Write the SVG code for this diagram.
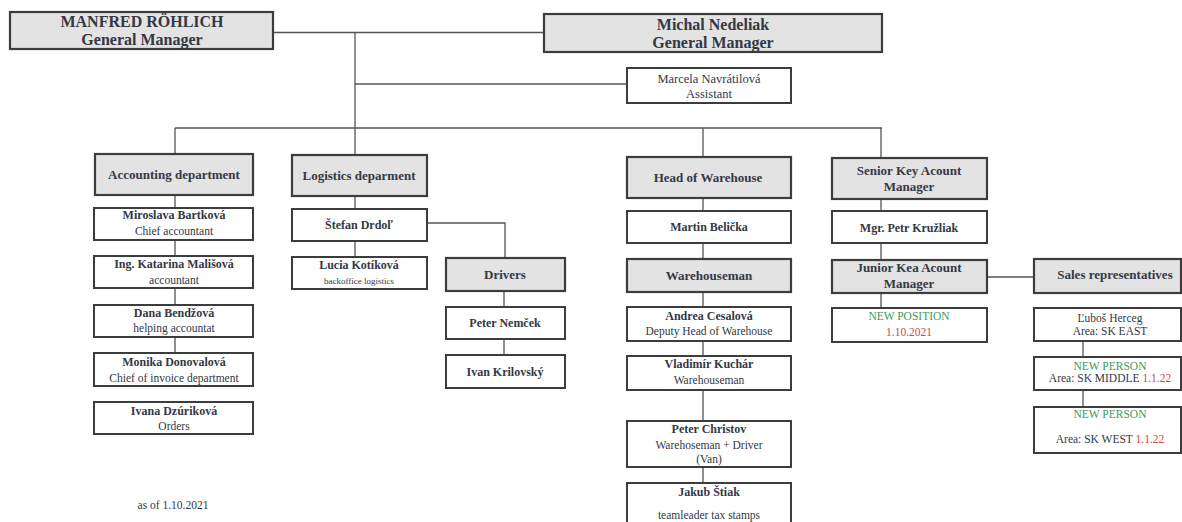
<svg xmlns="http://www.w3.org/2000/svg" width="1182" height="522" viewBox="0 0 1182 522">
<style>
text{font-family:"Liberation Serif","Times New Roman",serif;fill:#333845;text-anchor:middle}
.hd{fill:#e3e3e3;stroke:#3c3c3c;stroke-width:2.2}
.bx{fill:#ffffff;stroke:#3c3c3c;stroke-width:2}
.t{font-size:16px;font-weight:bold}
.h{font-size:13px;font-weight:bold}
.n{font-size:12px;font-weight:bold}
.r{font-size:11.5px}
.a{font-size:12.5px}
.s{font-size:9px}
.g{fill:#3f9a5c}
.red{fill:#d0474a}
#conn path{fill:none;stroke:#555;stroke-width:1.3}
</style>
<rect width="1182" height="522" fill="#ffffff"/>
<g id="conn">
<path d="M273 32.5H544"/>
<path d="M355 32.5V155"/>
<path d="M355 84H627"/>
<path d="M175 128H882"/>
<path d="M175 128V154"/>
<path d="M703 128V157"/>
<path d="M881 128V158"/>
<path d="M175 195V208M175 240V256M175 288V305M175 337V353"/>
<path d="M355 196V209M355 241V257"/>
<path d="M427 223H505V258"/>
<path d="M504 291V307M504 339V355"/>
<path d="M703 198V211M703 243V259M703 292V307M703 341V356M703 390V421M703 467V483"/>
<path d="M881 199V211M881 243V260M881 293V308"/>
<path d="M987 277H1034"/>
<path d="M1083 341V357M1083 390V407"/>
</g>
<g id="manfred"><rect class="hd" x="10" y="12" width="263" height="37"/><text class="t" x="142" y="27">MANFRED RÖHLICH</text><text class="t" x="142" y="45">General Manager</text></g>
<g id="michal"><rect class="hd" x="544" y="14" width="338" height="38"/><text class="t" x="713" y="30">Michal Nedeliak</text><text class="t" x="713" y="48">General Manager</text></g>
<g id="assistant"><rect class="bx" x="627" y="68" width="164" height="35"/><text class="a" x="709" y="83">Marcela Navrátilová</text><text class="a" x="709" y="98">Assistant</text></g>
<g id="accounting"><rect class="hd" x="95" y="154" width="158" height="41"/><text class="h" x="174" y="179">Accounting department</text></g>
<g id="logistics"><rect class="hd" x="292" y="155" width="135" height="41"/><text class="h" x="359" y="180">Logistics deparment</text></g>
<g id="warehouse"><rect class="hd" x="627" y="157" width="164" height="41"/><text class="h" x="708" y="182">Head of Warehouse</text></g>
<g id="senior"><rect class="hd" x="832" y="158" width="155" height="41"/><text class="h" x="909" y="175">Senior Key Acount</text><text class="h" x="909" y="191">Manager</text></g>
<g id="miroslava"><rect class="bx" x="94" y="208" width="159" height="32"/><text class="n" x="174" y="219">Miroslava Bartková</text><text class="r" x="174" y="235">Chief accountant</text></g>
<g id="katarina"><rect class="bx" x="94" y="256" width="159" height="32"/><text class="n" x="174" y="268">Ing. Katarina Mališová</text><text class="r" x="174" y="284">accountant</text></g>
<g id="dana"><rect class="bx" x="94" y="305" width="159" height="32"/><text class="n" x="174" y="317">Dana Bendžová</text><text class="r" x="174" y="332">helping accountat</text></g>
<g id="monika"><rect class="bx" x="94" y="353" width="159" height="33"/><text class="n" x="174" y="366">Monika Donovalová</text><text class="r" x="174" y="382">Chief of invoice department</text></g>
<g id="ivana"><rect class="bx" x="94" y="402" width="159" height="32"/><text class="n" x="174" y="415">Ivana Dzúriková</text><text class="r" x="174" y="430">Orders</text></g>
<g id="stefan"><rect class="bx" x="292" y="209" width="135" height="32"/><text class="n" x="359" y="229">Štefan Drdoľ</text></g>
<g id="lucia"><rect class="bx" x="292" y="257" width="135" height="32"/><text class="n" x="359" y="269">Lucia Kotíková</text><text class="s" x="359" y="284">backoffice logistics</text></g>
<g id="drivers"><rect class="hd" x="446" y="258" width="119" height="33"/><text class="h" x="505" y="279">Drivers</text></g>
<g id="nemcek"><rect class="bx" x="446" y="307" width="119" height="32"/><text class="n" x="505" y="327">Peter Nemček</text></g>
<g id="krilovsky"><rect class="bx" x="446" y="355" width="119" height="33"/><text class="n" x="505" y="376">Ivan Krilovský</text></g>
<g id="martin"><rect class="bx" x="627" y="211" width="164" height="32"/><text class="n" x="709" y="231">Martin Belička</text></g>
<g id="warehouseman"><rect class="hd" x="627" y="259" width="164" height="33"/><text class="h" x="709" y="280">Warehouseman</text></g>
<g id="andrea"><rect class="bx" x="627" y="307" width="164" height="34"/><text class="n" x="709" y="320">Andrea Cesalová</text><text class="r" x="709" y="335">Deputy Head of Warehouse</text></g>
<g id="vladimir"><rect class="bx" x="627" y="356" width="164" height="34"/><text class="n" x="709" y="368">Vladimír Kuchár</text><text class="r" x="709" y="384">Warehouseman</text></g>
<g id="christov"><rect class="bx" x="627" y="421" width="164" height="46"/><text class="n" x="709" y="433">Peter Christov</text><text class="r" x="709" y="449">Warehoseman + Driver</text><text class="r" x="709" y="463">(Van)</text></g>
<g id="jakub"><rect class="bx" x="627" y="483" width="164" height="45"/><text class="n" x="709" y="496">Jakub Štiak</text><text class="r" x="709" y="519">teamleader tax stamps</text></g>
<g id="petr"><rect class="bx" x="832" y="211" width="155" height="32"/><text class="n" x="909" y="232">Mgr. Petr Kružliak</text></g>
<g id="junior"><rect class="hd" x="832" y="260" width="155" height="33"/><text class="h" x="909" y="272">Junior Kea Acount</text><text class="h" x="909" y="288">Manager</text></g>
<g id="newposition"><rect class="bx" x="832" y="308" width="155" height="34"/><text class="r g" x="909" y="320">NEW POSITION</text><text class="r red" x="909" y="336">1.10.2021</text></g>
<g id="sales"><rect class="hd" x="1034" y="259" width="147" height="34"/><text class="h" x="1115" y="279">Sales representatives</text></g>
<g id="lubos"><rect class="bx" x="1034" y="308" width="147" height="33"/><text class="r" x="1110" y="322">Ľuboš Herceg</text><text class="r" x="1110" y="335">Area: SK EAST</text></g>
<g id="middle"><rect class="bx" x="1034" y="357" width="147" height="33"/><text class="r g" x="1110" y="370">NEW PERSON</text><text class="r" x="1110" y="382">Area: SK MIDDLE <tspan class="red">1.1.22</tspan></text></g>
<g id="west"><rect class="bx" x="1034" y="407" width="147" height="46"/><text class="r g" x="1110" y="418">NEW PERSON</text><text class="r" x="1110" y="443">Area: SK WEST <tspan class="red">1.1.22</tspan></text></g>
<g id="note"><text class="r" x="173" y="509">as of 1.10.2021</text></g>
</svg>
